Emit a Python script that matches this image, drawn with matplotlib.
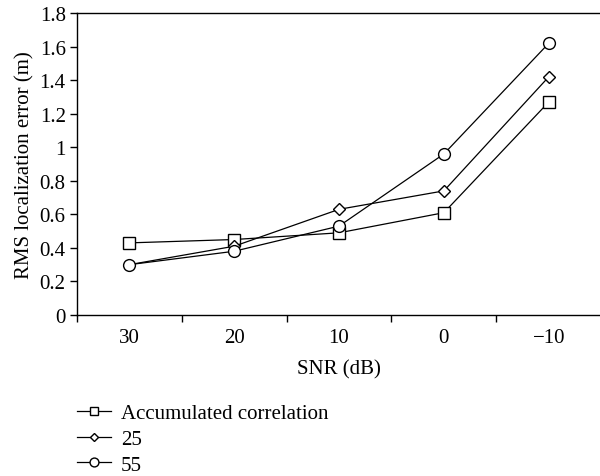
import numpy as np
import matplotlib.pyplot as plt

plt.rcParams['font.family'] = ['Liberation Serif', 'DejaVu Serif']

#data
snr_labels = ['30', '20', '10', '0', '\u221210']
acc_corr = [0.43, 0.45, 0.49, 0.61, 1.27]
w25 = [0.30, 0.41, 0.63, 0.74, 1.42]
w55 = [0.30, 0.38, 0.53, 0.96, 1.62]

x = np.arange(len(snr_labels))
fs = 15

fig = plt.figure(figsize=(6, 4.77), dpi=100)
ax = fig.add_axes([0.128, 0.3375, 0.874, 0.633])

ax.plot(x, acc_corr, color='black', lw=0.9, marker='s', ms=8, mfc='white', mec='black', mew=1.0, label='Accumulated correlation')
ax.plot(x, w25, color='black', lw=0.9, marker='D', ms=6, mfc='white', mec='black', mew=1.0, label='25')
ax.plot(x, w55, color='black', lw=0.9, marker='o', ms=8.5, mfc='white', mec='black', mew=1.0, label='55')

ax.set_xlim(-0.5, 4.5)
ax.set_ylim(0, 1.8)
ax.set_yticks(np.arange(0, 1.81, 0.2))
ax.set_yticklabels(['0', '0.2', '0.4', '0.6', '0.8', '1', '1.2', '1.4', '1.6', '1.8'])
ax.set_xticks(x)
ax.set_xticklabels(snr_labels)
ax.set_xticks(np.arange(-0.5, 4.6, 1.0), minor=True)
ax.tick_params(axis='x', which='major', length=0, pad=9, labelsize=fs)
ax.tick_params(axis='x', which='minor', length=5, width=1, direction='out')
ax.tick_params(axis='y', length=5, width=1, direction='out', labelsize=fs, pad=3)
ax.spines['right'].set_visible(False)
for s in ['left', 'top', 'bottom']:
    ax.spines[s].set_linewidth(1.0)

ax.set_xlabel('SNR (dB)', fontsize=fs, labelpad=9)
ax.set_ylabel('RMS localization error (m)', fontsize=fs, labelpad=4)

handles, labels = ax.get_legend_handles_labels()
fig.legend(handles, labels, loc='upper left', bbox_to_anchor=(0.129, 0.152), frameon=False,
           fontsize=fs, handlelength=1.6, handletextpad=0.5, labelspacing=0.3,
           borderaxespad=0, borderpad=0, markerscale=0.75)

plt.savefig('out.png', dpi=100)
